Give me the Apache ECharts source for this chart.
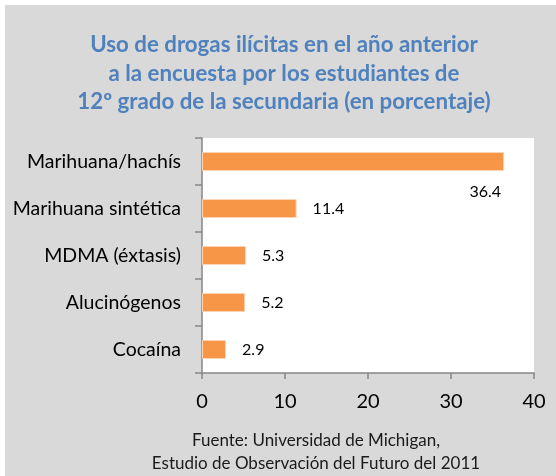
<!DOCTYPE html>
<html><head><meta charset="utf-8">
<style>html,body{margin:0;padding:0;background:#fff}#c{width:556px;height:476px}</style>
<script src="https://cdn.jsdelivr.net/npm/echarts@6/dist/echarts.min.js"></script>
</head><body><div id="c"></div>
<script>
var categories = ['Marihuana/hachís', 'Marihuana sintética', 'MDMA (éxtasis)', 'Alucinógenos', 'Cocaína'];
var values = [36.4, 11.4, 5.3, 5.2, 2.9];
var xTicks = [0, 10, 20, 30, 40];
var titleLines = ['Uso de drogas ilícitas en el año anterior', 'a la encuesta por los estudiantes de', '12º grado de la secundaria (en porcentaje)'];
var sourceLines = ['Fuente: Universidad de Michigan,', 'Estudio de Observación del Futuro del 2011'];

var FONT = 'Lato';
var chart = echarts.init(document.getElementById('c'), null, {renderer: 'canvas'});
var data = values.map(function (v, i) {
  var d = {value: v};
  if (i === 0) {
    d.label = {position: ['100%', '100%'], align: 'right', verticalAlign: 'top', offset: [-3, 13]};
  }
  return d;
});
chart.setOption({
  animation: false,
  graphic: [
    {type: 'rect', shape: {x: 5, y: 5, width: 551, height: 471}, style: {fill: '#d9d9d9'}, z: -10},
    {type: 'text', x: 284, y: 73.5, style: {text: titleLines.join('\n'), fill: '#4f81bd', font: 'bold 22.3px ' + FONT, align: 'center', verticalAlign: 'middle', lineHeight: 28.5}, silent: true},
    {type: 'text', x: 316, y: 452, style: {text: sourceLines.join('\n'), fill: '#1a1a1a', font: '17px ' + FONT, align: 'center', verticalAlign: 'middle', lineHeight: 23}, silent: true}
  ],
  grid: {left: 202, right: 22, top: 138, bottom: 103, show: true, backgroundColor: '#fff', borderWidth: 0},
  xAxis: {
    type: 'value', min: 0, max: 40, interval: 10,
    axisLine: {show: true, lineStyle: {color: '#868686', width: 1.5}},
    axisTick: {show: true, length: 6, lineStyle: {color: '#868686', width: 1.5}},
    splitLine: {show: false},
    axisLabel: {color: '#000', fontFamily: FONT, fontSize: 20, margin: 19,
      formatter: function (v) { return xTicks.indexOf(v) >= 0 ? String(v) : ''; }}
  },
  yAxis: {
    type: 'category', data: categories, inverse: true,
    axisLine: {show: true, lineStyle: {color: '#868686', width: 1.5}},
    axisTick: {show: true, length: 7, lineStyle: {color: '#868686', width: 1.5}},
    axisLabel: {color: '#000', fontFamily: FONT, fontSize: 19.5, margin: 21}
  },
  series: [{
    type: 'bar', data: data, barWidth: 19,
    itemStyle: {color: '#f79646', borderColor: '#fbd5b5', borderWidth: 1},
    label: {show: true, position: 'right', distance: 16, color: '#000', fontFamily: FONT, fontSize: 16,
      formatter: function (p) { return p.value.toFixed(1); }}
  }]
});
</script></body></html>
